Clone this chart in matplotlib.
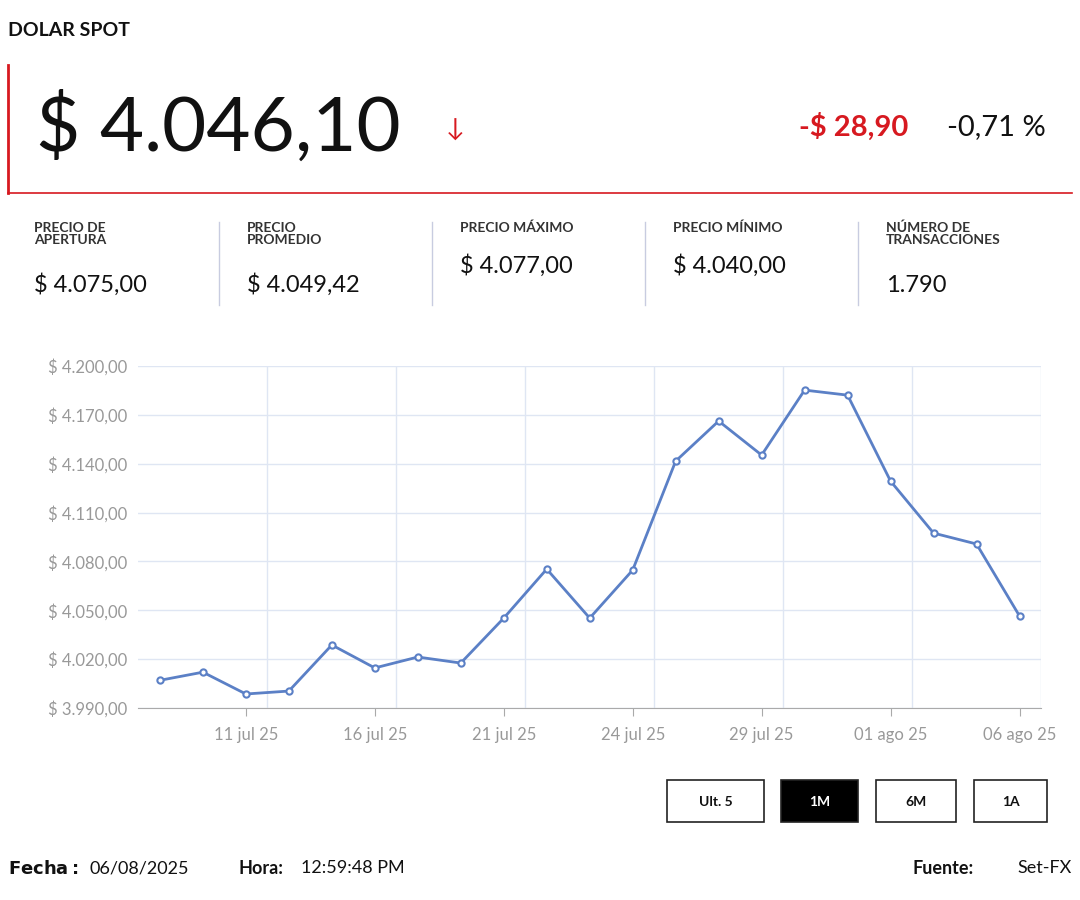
import matplotlib
matplotlib.use("Agg")
import matplotlib.pyplot as plt
from matplotlib.patches import Rectangle
from matplotlib.lines import Line2D

dates = ["09 jul 25","10 jul 25","11 jul 25","14 jul 25","15 jul 25","16 jul 25","17 jul 25",
         "18 jul 25","21 jul 25","22 jul 25","23 jul 25","24 jul 25","25 jul 25","28 jul 25",
         "29 jul 25","30 jul 25","31 jul 25","01 ago 25","04 ago 25","05 ago 25","06 ago 25"]
prices = [4007.0,4012.0,3998.6,4000.4,4028.7,4014.6,4021.3,4017.6,4045.2,4075.3,4045.2,
          4074.7,4141.6,4166.2,4145.3,4185.2,4182.1,4129.3,4097.4,4090.7,4046.5]
yticks = [3990,4020,4050,4080,4110,4140,4170,4200]
ytick_labels = ["$ 3.990,00","$ 4.020,00","$ 4.050,00","$ 4.080,00","$ 4.110,00","$ 4.140,00","$ 4.170,00","$ 4.200,00"]
stat_labels = ["PRECIO DE\nAPERTURA","PRECIO\nPROMEDIO","PRECIO MÁXIMO","PRECIO MÍNIMO","NÚMERO DE\nTRANSACCIONES"]
stat_values = ["$ 4.075,00","$ 4.049,42","$ 4.077,00","$ 4.040,00","1.790"]
buttons = ["Ult. 5","1M","6M","1A"]

W, H = 1080, 900
FONT = "Lato"
plt.rcParams["font.family"] = FONT
fig = plt.figure(figsize=(W/100, H/100), dpi=100)

def fx(x): return x / W
def fy(y): return 1 - y / H
def txt(x, y, s, **kw):
    fig.text(fx(x), fy(y), s, **kw)

txt(8, 30, "DOLAR SPOT", fontsize=14, fontweight="bold", va="center", color="#111")
fig.add_artist(Line2D([fx(8), fx(8)], [fy(65), fy(193)], color="#d71920", lw=2))
fig.add_artist(Line2D([fx(8), fx(1072)], [fy(193), fy(193)], color="#d71920", lw=1.2))
txt(36, 128, "$ 4.046,10", fontsize=55, va="center", color="#111")
txt(455, 130, "↓", fontsize=18, va="center", ha="center", color="#d71920")
txt(908, 127, "-$ 28,90", fontsize=21, va="center", ha="right", color="#d71920", fontweight="bold")
txt(1046, 127, "-0,71 %", fontsize=21, va="center", ha="right", color="#111")

xs = [34, 247, 460, 673, 886]
for i, (lab, val) in enumerate(zip(stat_labels, stat_values)):
    txt(xs[i], 222, lab, fontsize=10, va="top", color="#333", fontweight="bold", linespacing=1.0)
    vy = 285 if "\n" in lab else 266
    txt(xs[i], vy, val, fontsize=17, va="center", color="#111")
    if i > 0:
        fig.add_artist(Line2D([fx(xs[i]-28)]*2, [fy(222), fy(305)], color="#c8cce0", lw=1))

ax = fig.add_axes([fx(138), fy(708), fx(1041-138), (708-366)/H])
x = list(range(len(prices)))
ax.plot(x, prices, color="#5b80c6", lw=2, marker="o", ms=4.5, mfc="white", mec="#5b80c6", mew=1.5)
ax.set_xlim(-0.51, 20.5)
ax.set_ylim(3990, 4200)
ax.set_yticks(yticks)
ax.set_yticklabels(ytick_labels)
tick_idx = list(range(2, 21, 3))
ax.set_xticks(tick_idx)
ax.set_xticklabels([dates[i] for i in tick_idx])
ax.set_xticks([i + 0.5 for i in range(2, 20, 3)], minor=True)
ax.grid(True, which="minor", axis="x", color="#dfe6f3", lw=1)
ax.grid(True, which="major", axis="y", color="#dfe6f3", lw=1)
ax.tick_params(axis="both", which="both", labelsize=12, colors="#999", length=0, pad=8)
ax.tick_params(axis="x", which="major", length=6, color="#aaa")
for s in ["top", "right", "left"]:
    ax.spines[s].set_visible(False)
ax.spines["bottom"].set_color("#aaa")
ax.axvline(20.5, color="#dfe6f3", lw=1)

for (x0, x1, lab) in zip([667, 781, 876, 974], [764, 858, 956, 1047], buttons):
    dark = lab == "1M"
    fig.add_artist(Rectangle((fx(x0), fy(822)), fx(x1-x0), (822-780)/H,
                             facecolor="#000" if dark else "white", edgecolor="#222", lw=1.2))
    txt((x0+x1)/2, 802, lab, fontsize=10, ha="center", va="center",
        color="white" if dark else "#111", fontweight="bold")

txt(8, 868, r"$\bf{Fecha:}$", fontsize=13, va="center", color="#111")
fig.text(fx(8), fy(868), "Fecha:", fontsize=13, va="center", color="white", alpha=0)
txt(89, 868, "06/08/2025", fontsize=13, va="center", color="#111")
txt(238, 868, "Hora:", fontsize=13, va="center", color="#111", fontweight="bold")
txt(301, 868, "12:59:48 PM", fontsize=13, va="center", color="#111")
txt(913, 868, "Fuente:", fontsize=13, va="center", color="#111", fontweight="bold")
txt(1072, 868, "Set-FX", fontsize=13, va="center", ha="right", color="#111")

fig.savefig("out.png", dpi=100)
